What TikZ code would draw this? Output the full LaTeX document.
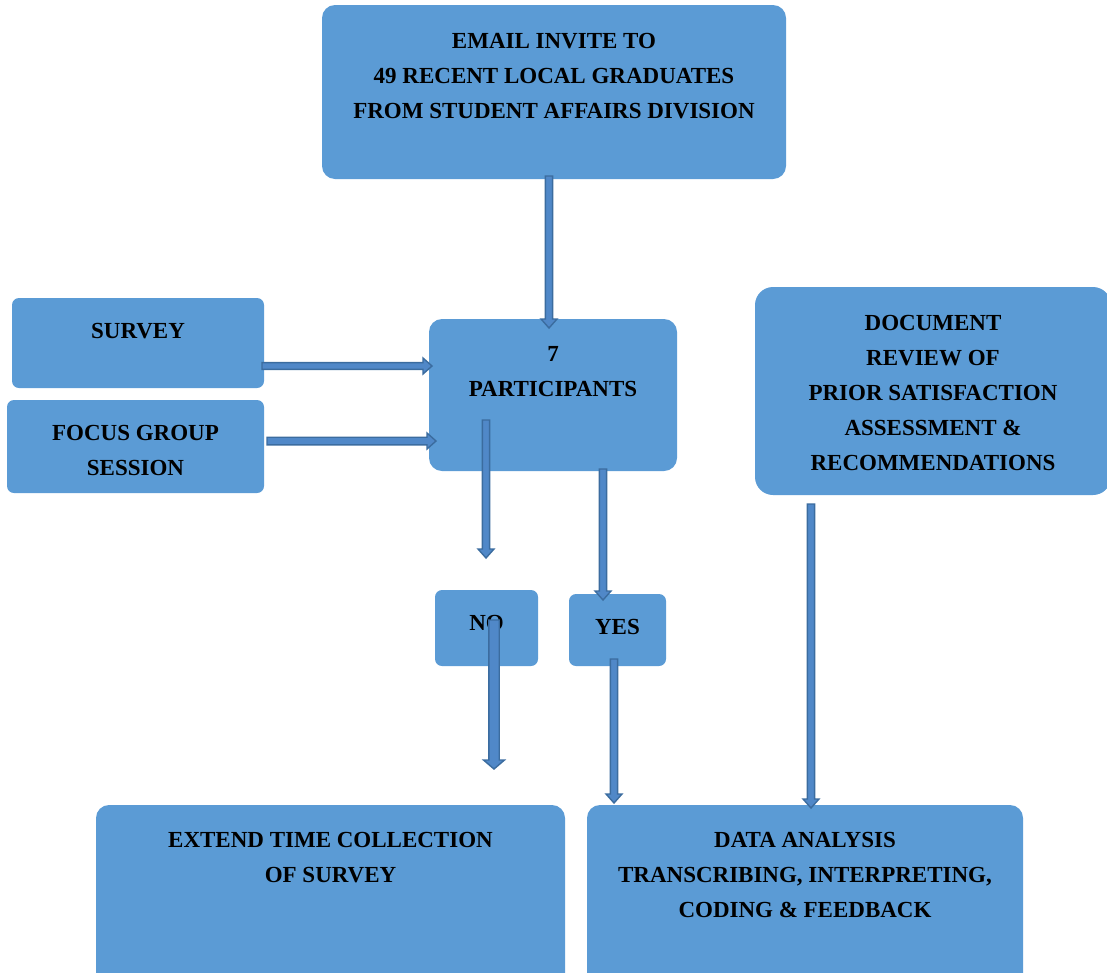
\documentclass[tikz,border=0pt]{standalone}
\usepackage{fontspec}
\setmainfont{Liberation Serif}
\usetikzlibrary{calc}
\definecolor{boxblue}{HTML}{5B9BD5}
\definecolor{arrfill}{HTML}{5088C8}
\definecolor{arrline}{HTML}{3B6C9F}
\tikzset{
  box/.style={fill=boxblue, draw=none, rounded corners=13pt, inner sep=0pt,
    font=\bfseries\fontsize{23}{35}\selectfont},
  smallbox/.style={box, rounded corners=7pt},
  blockarrow/.style={fill=arrfill, draw=arrline, line width=1.4pt, line join=miter}
}
\newcommand\boxtxt[4]{\parbox[c][#2][t]{#1}{\centering\vspace*{#3}#4}}
\newcommand\varrow[4]{%
  \draw[blockarrow] let \p1=(#1), \p2=(#2) in
    (\x1-#3,\y1) -- (\x1-#3,\y2+9pt) -- (\x1-#4,\y2+9pt) -- (\x1,\y2)
    -- (\x1+#4,\y2+9pt) -- (\x1+#3,\y2+9pt) -- (\x1+#3,\y1) -- cycle;}
\newcommand\harrow[4]{%
  \draw[blockarrow] let \p1=(#1), \p2=(#2) in
    (\x1,\y1-#3) -- (\x2-9pt,\y1-#3) -- (\x2-9pt,\y1-#4) -- (\x2,\y1)
    -- (\x2-9pt,\y1+#4) -- (\x2-9pt,\y1+#3) -- (\x1,\y1+#3) -- cycle;}
\begin{document}
\begin{tikzpicture}[x=1pt,y=1pt]
\clip (0,0) rectangle (1107,-972);
% boxes
\node[box, minimum width=464pt, minimum height=174pt] (email) at (554,-92)
  {\boxtxt{464pt}{174pt}{28.3pt}{EMAIL INVITE TO\\49 RECENT LOCAL GRADUATES\\FROM STUDENT AFFAIRS DIVISION}};
\node[box, minimum width=248pt, minimum height=152pt] (part) at (553,-395)
  {\boxtxt{248pt}{152pt}{27pt}{7\\PARTICIPANTS}};
\node[smallbox, minimum width=252pt, minimum height=90pt] (survey) at (138,-343)
  {\boxtxt{252pt}{90pt}{25.3pt}{SURVEY}};
\node[smallbox, minimum width=257pt, minimum height=93pt] (focus) at (135.5,-446.5)
  {\boxtxt{257pt}{93pt}{25.3pt}{FOCUS GROUP\\SESSION}};
\node[box, rounded corners=18pt, minimum width=356pt, minimum height=208pt] (doc) at (933,-391)
  {\boxtxt{356pt}{208pt}{28.3pt}{DOCUMENT\\REVIEW OF\\PRIOR SATISFACTION\\ASSESSMENT \&\\RECOMMENDATIONS}};
\node[smallbox, minimum width=103pt, minimum height=76pt] (no) at (486.5,-628)
  {\boxtxt{103pt}{76pt}{25.3pt}{NO}};
\node[smallbox, minimum width=97pt, minimum height=72pt] (yes) at (617.5,-630)
  {\boxtxt{97pt}{72pt}{25.3pt}{YES}};
\node[box, minimum width=469pt, minimum height=185pt] (extend) at (330.5,-897.5)
  {\boxtxt{469pt}{185pt}{27.3pt}{EXTEND TIME COLLECTION\\OF SURVEY}};
\node[box, minimum width=436pt, minimum height=185pt] (data) at (805,-897.5)
  {\boxtxt{436pt}{185pt}{27.3pt}{DATA ANALYSIS\\TRANSCRIBING, INTERPRETING,\\CODING \& FEEDBACK}};
% connector ends
\coordinate (a1s) at (549,-176);  \coordinate (a1e) at (549,-328);
\coordinate (a2s) at (262,-366);  \coordinate (a2e) at (432,-366);
\coordinate (a3s) at (267,-441);  \coordinate (a3e) at (436,-441);
\coordinate (a4s) at (486,-420);  \coordinate (a4e) at (486,-558);
\coordinate (a5s) at (603,-469);  \coordinate (a5e) at (603,-600);
\coordinate (a6s) at (494,-620);  \coordinate (a6e) at (494,-769);
\coordinate (a7s) at (614,-659);  \coordinate (a7e) at (614,-803);
\coordinate (a8s) at (811,-504);  \coordinate (a8e) at (811,-808);
% block arrows
\varrow{a1s}{a1e}{3.6pt}{8pt}
\harrow{a2s}{a2e}{3.4pt}{8pt}
\harrow{a3s}{a3e}{3.8pt}{8pt}
\varrow{a4s}{a4e}{3.6pt}{8pt}
\varrow{a5s}{a5e}{3.6pt}{8pt}
\varrow{a6s}{a6e}{5.2pt}{10.5pt}
\varrow{a7s}{a7e}{3.6pt}{8pt}
\varrow{a8s}{a8e}{3.6pt}{8pt}
\end{tikzpicture}
\end{document}
